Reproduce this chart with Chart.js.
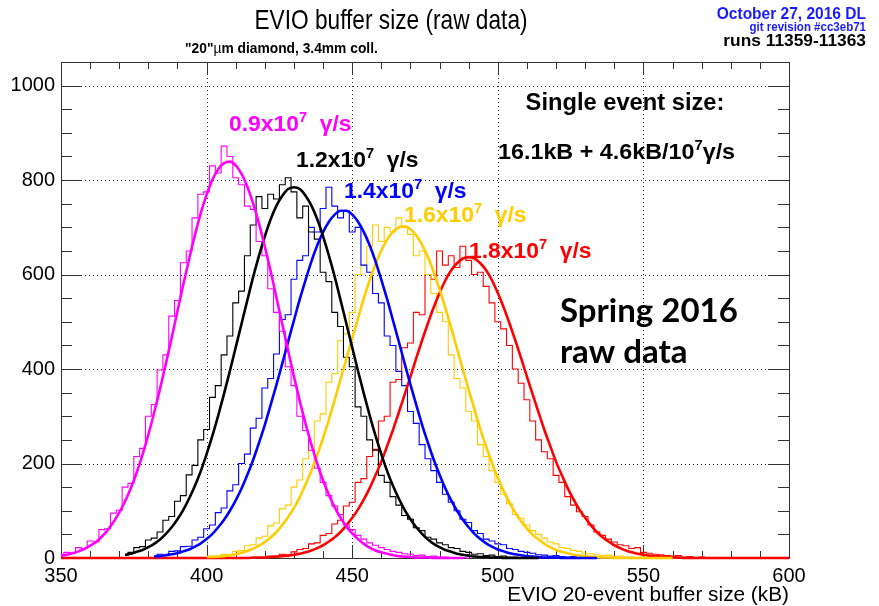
<!DOCTYPE html>
<html>
<head>
<meta charset="utf-8">
<script src="https://cdn.jsdelivr.net/npm/chart.js@4.4.1/dist/chart.umd.min.js"></script>
<style>
  html, body { margin: 0; padding: 0; background: #fff; }
  #wrap { width: 879px; height: 606px; }
</style>
</head>
<body>
<div id="wrap"><canvas id="myChart" width="879" height="606"></canvas></div>
<script>
// beam rates of the five run groups (x10^7 gamma/s)
const rates = ['0.9', '1.2', '1.4', '1.6', '1.8'];
const colors = ['#ff00ff', '#000000', '#0000ff', '#ffcc00', '#ff0000'];

// every series is one value per 2 kB bin, starting at its own *Start value (kB)
const binWidth = 2;

// gaussian fit curves
const magentaFitStart = 350;
const magentaFit = [5,7,10,14,19,26,34,45,59,76,
  96,120,148,181,219,261,308,358,411,466,
  523,579,633,684,730,769,801,823,836,839,
  831,813,786,750,708,659,607,551,495,439,
  384,332,284,240,200,164,134,107,85,67,
  52,40,30,22,16,12,9,6,4,3,
  2,1,1,1,0,0,0,0,0,0];
const blackFitStart = 372;
const blackFit = [7,9,13,17,23,30,39,51,65,82,
  102,126,153,184,220,259,302,348,396,446,
  496,546,595,640,681,717,746,767,781,785,
  781,767,746,717,681,640,595,546,496,446,
  396,348,302,259,220,184,153,126,102,82,
  65,51,39,30,23,17,13,9,7,5,
  3,2,2,1,1,0,0,0,0,0,
  0,0];
const blueFitStart = 382;
const blueFit = [3,4,6,8,10,14,18,24,31,40,
  51,65,81,100,122,147,176,208,244,282,
  324,367,412,458,503,548,589,628,662,690,
  712,727,735,735,727,712,690,662,628,589,
  548,503,458,412,367,324,282,244,208,176,
  147,122,100,81,65,51,40,31,24,18,
  14,10,8,6,4,3,2,1,1,1,
  0,0,0,0,0,0,0];
const goldFitStart = 400;
const goldFit = [2,2,3,4,6,8,11,15,20,26,
  34,44,55,70,87,106,129,156,185,218,
  254,293,335,378,422,465,508,550,588,622,
  651,674,691,700,702,696,683,663,637,605,
  569,529,487,443,399,356,314,273,236,201,
  170,142,117,96,78,62,49,39,30,23,
  17,13,10,7,5,4,3,2,1,1,
  0,0,0,0,0,0,0,0,0,0,0];
const redFitStart = 350;
const redFit = [0,0,0,0,0,0,0,0,0,0,
  0,0,0,0,0,0,0,0,0,0,
  0,0,0,0,0,0,0,0,0,0,
  0,0,0,1,1,1,2,3,4,5,
  7,9,12,16,21,27,35,44,55,69,
  85,103,124,148,175,204,237,271,308,346,
  384,423,461,497,531,561,588,609,624,634,
  637,634,624,609,588,561,531,497,461,423,
  384,346,308,271,237,204,175,148,124,103,
  85,69,55,44,35,27,21,16,12,9,
  7,5,4,3,2,1,1,0,0,0,
  0,0,0,0,0,0,0,0,0,0,
  0,0,0,0,0,0];

// raw data histograms (counts per bin)
const magentaHistStart = 350;
const magentaHist = [8,12,10,22,20,36,34,60,62,95,
  101,150,158,215,232,300,325,398,430,512,
  545,625,650,720,770,775,830,815,872,850,
  805,790,745,738,670,640,570,520,480,405,
  365,300,270,228,190,160,132,110,92,70,
  60,48,40,32,27,22,18,14,12,9,
  8,5,6,3,4,2,2,1,0,1,
  0];
const blackHistStart = 372;
const blackHist = [6,12,22,24,38,42,55,80,88,120,
  132,176,196,250,272,340,365,430,470,540,
  565,640,705,765,740,770,760,790,805,775,
  720,745,690,675,605,585,520,490,425,405,
  320,300,250,228,175,160,130,112,90,82,
  64,58,44,40,32,28,22,20,14,12,
  8,9,5,6,3,4,2,2,1,1,
  0,1,0,0,0];
const blueHistStart = 382;
const blueHist = [4,8,6,14,15,24,25,38,44,62,
  70,96,106,142,155,200,220,275,296,360,
  380,432,505,515,590,630,640,700,690,740,
  785,745,720,735,690,700,620,605,560,540,
  470,450,395,365,310,285,240,210,185,160,
  135,118,100,82,75,58,52,40,36,30,
  28,20,18,14,12,10,7,6,4,5,
  3,2,3,1,2,1,0,1,0,0];
const goldHistStart = 400;
const goldHist = [2,4,3,8,7,14,16,26,28,42,
  46,68,74,104,112,150,165,210,228,290,
  305,372,390,460,475,520,600,620,660,705,
  670,700,690,720,700,685,640,650,600,560,
  520,500,430,380,360,310,290,240,215,185,
  160,135,115,92,84,70,58,50,42,34,
  30,22,20,16,14,10,9,7,5,6,
  3,4,2,2,1,2,1,0,1,0,
  0,0];
const redHistStart = 420;
const redHist = [2,4,3,8,6,13,18,20,30,32,
  48,52,72,80,110,118,160,168,215,230,
  290,300,372,378,445,455,520,515,600,590,
  650,620,640,615,660,630,600,605,575,540,
  500,485,450,400,370,335,290,250,225,210,
  175,160,130,112,98,88,70,55,48,40,
  34,28,26,20,22,12,10,8,7,5,
  4,5,2,3,1,2,1,1,0,1,
  0,0,1,0,0,0];

const fits = [[magentaFitStart, magentaFit], [blackFitStart, blackFit], [blueFitStart, blueFit], [goldFitStart, goldFit], [redFitStart, redFit]];
const hists = [[magentaHistStart, magentaHist], [blackHistStart, blackHist], [blueHistStart, blueHist], [goldHistStart, goldHist], [redHistStart, redHist]];

function toPoints(start, values) {
  return values.map((v, i) => ({x: start + i * binWidth, y: v}));
}

const FONT = '"Liberation Sans", Arial, Helvetica, sans-serif';

// draws a run of text pieces (for superscripts), squeezed by sx like the ROOT fonts
function drawRich(ctx, parts, x, y, align, sx, color) {
  ctx.save();
  ctx.fillStyle = color;
  ctx.textBaseline = 'alphabetic';
  ctx.textAlign = 'left';
  let total = 0;
  parts.forEach(p => { ctx.font = p.font; p.w = ctx.measureText(p.text).width; total += p.w; });
  let x0 = x;
  if (align === 'right') x0 = x - total * sx;
  if (align === 'center') x0 = x - total * sx / 2;
  ctx.translate(x0, y);
  ctx.scale(sx, 1);
  let cx = 0;
  parts.forEach(p => { ctx.font = p.font; ctx.fillText(p.text, cx, p.dy || 0); cx += p.w; });
  ctx.restore();
}

const rootFrame = {
  id: 'rootFrame',
  beforeDatasetsDraw(chart) {
    const ctx = chart.ctx, a = chart.chartArea, xs = chart.scales.x, ys = chart.scales.y;
    ctx.save();
    // dotted grid at the labelled ticks
    ctx.strokeStyle = '#222';
    ctx.lineWidth = 1;
    ctx.setLineDash([1, 3]);
    ctx.beginPath();
    xs.ticks.forEach(t => {
      if (t.value <= xs.min || t.value >= xs.max) return;
      const px = Math.round(xs.getPixelForValue(t.value)) + 0.5;
      ctx.moveTo(px, a.top); ctx.lineTo(px, a.bottom);
    });
    ys.ticks.forEach(t => {
      if (t.value <= ys.min || t.value >= ys.max) return;
      const py = Math.round(ys.getPixelForValue(t.value)) + 0.5;
      ctx.moveTo(a.left, py); ctx.lineTo(a.right, py);
    });
    ctx.stroke();
    ctx.setLineDash([]);

    // frame with ROOT style inward ticks on all four sides
    ctx.strokeStyle = '#333';
    ctx.strokeRect(Math.round(a.left) + 0.5, Math.round(a.top) + 0.5, Math.round(a.right - a.left), Math.round(a.bottom - a.top));
    ctx.beginPath();
    for (let v = xs.min; v <= xs.max; v += 10) {
      const px = Math.round(xs.getPixelForValue(v)) + 0.5;
      const len = v % 50 === 0 ? 13 : 7;
      ctx.moveTo(px, a.bottom); ctx.lineTo(px, a.bottom - len);
      ctx.moveTo(px, a.top); ctx.lineTo(px, a.top + len);
    }
    for (let v = ys.min; v <= ys.max; v += 50) {
      const py = Math.round(ys.getPixelForValue(v)) + 0.5;
      const len = v % 200 === 0 ? 21 : 11;
      ctx.moveTo(a.left, py); ctx.lineTo(a.left + len, py);
      ctx.moveTo(a.right, py); ctx.lineTo(a.right - len, py);
    }
    ctx.stroke();
    ctx.restore();
  },
  afterDraw(chart) {
    const ctx = chart.ctx;
    const B = 'bold ';
    drawRich(ctx, [{text: 'EVIO buffer size (raw data)', font: '28px ' + FONT}], 391, 29, 'center', 0.81, '#000');
    drawRich(ctx, [{text: '"20"', font: B + '15px ' + FONT}, {text: 'µ', font: '15px ' + FONT}, {text: 'm diamond, 3.4mm coll.', font: B + '15px ' + FONT}], 185, 53, 'left', 0.92, '#000');
    drawRich(ctx, [{text: 'October 27, 2016 DL', font: B + '16px ' + FONT}], 866, 19, 'right', 0.97, '#1a1aff');
    drawRich(ctx, [{text: 'git revision #cc3eb71', font: B + '12px ' + FONT}], 866, 31, 'right', 0.96, '#1a1aff');
    drawRich(ctx, [{text: 'runs 11359-11363', font: B + '17px ' + FONT}], 866, 46, 'right', 1.02, '#000');
    drawRich(ctx, [{text: 'EVIO 20-event buffer size (kB)', font: '20px ' + FONT}], 789, 601, 'right', 1.04, '#000');

    drawRich(ctx, [{text: 'Single event size:', font: B + '23px ' + FONT}], 625, 110, 'center', 1.03, '#000');
    drawRich(ctx, [
      {text: '16.1kB + 4.6kB/10', font: B + '22px ' + FONT},
      {text: '7', font: B + '14px ' + FONT, dy: -9},
      {text: 'γ/s', font: B + '22px ' + FONT}
    ], 498, 159, 'left', 1.06, '#000');

    // rate labels next to each peak: [left, baseline] in px
    const labelPos = [[229, 131], [296, 167], [344, 198], [404, 222], [469, 258]];
    rates.forEach((r, i) => {
      drawRich(ctx, [
        {text: r + 'x10', font: B + '22px ' + FONT},
        {text: '7', font: B + '14px ' + FONT, dy: -9},
        {text: '  γ/s', font: B + '22px ' + FONT}
      ], labelPos[i][0], labelPos[i][1], 'left', 1.04, colors[i]);
    });

    drawRich(ctx, [{text: 'Spring 2016', font: '700 33px Lato, "Open Sans", sans-serif'}], 560, 322, 'left', 1.0, '#000');
    drawRich(ctx, [{text: 'raw data', font: '700 33px Lato, "Open Sans", sans-serif'}], 560, 363, 'left', 1.0, '#000');
  }
};

const datasets = [];
fits.forEach((f, i) => {
  datasets.push({
    label: rates[i] + ' fit',
    data: toPoints(f[0], f[1]),
    borderColor: colors[i],
    borderWidth: 2.6,
    pointRadius: 0,
    cubicInterpolationMode: 'monotone',
    fill: false,
    clip: {left: 0, top: 0, right: 0, bottom: 3}
  });
});
hists.forEach((h, i) => {
  datasets.push({
    label: rates[i] + ' data',
    data: toPoints(h[0], h[1]),
    borderColor: colors[i],
    borderWidth: 1.1,
    pointRadius: 0,
    stepped: 'middle',
    fill: false,
    clip: {left: 0, top: 0, right: 0, bottom: 2}
  });
});

const ctx = document.getElementById('myChart').getContext('2d');
const myChart = new Chart(ctx, {
  type: 'line',
  data: { datasets: datasets },
  options: {
    responsive: false,
    animation: false,
    devicePixelRatio: 1,
    layout: { padding: { left: 0, right: 90, top: 62, bottom: 0 } },
    plugins: { legend: { display: false }, tooltip: { enabled: false } },
    scales: {
      x: {
        type: 'linear', min: 350, max: 600,
        afterFit: s => { s.height = 48; },
        ticks: { stepSize: 50, color: '#000', padding: 6, maxRotation: 0, font: { family: FONT, size: 20 }, callback: v => String(v) },
        grid: { display: false, drawTicks: false },
        border: { display: false }
      },
      y: {
        min: 0, max: 1050,
        afterFit: s => { s.width = 61; },
        afterBuildTicks: s => { s.ticks = s.ticks.filter(t => t.value % 200 === 0); },
        ticks: { stepSize: 200, color: '#000', padding: 6, font: { family: FONT, size: 20 }, callback: v => String(v) },
        grid: { display: false, drawTicks: false },
        border: { display: false }
      }
    }
  },
  plugins: [rootFrame]
});
</script>
</body>
</html>
